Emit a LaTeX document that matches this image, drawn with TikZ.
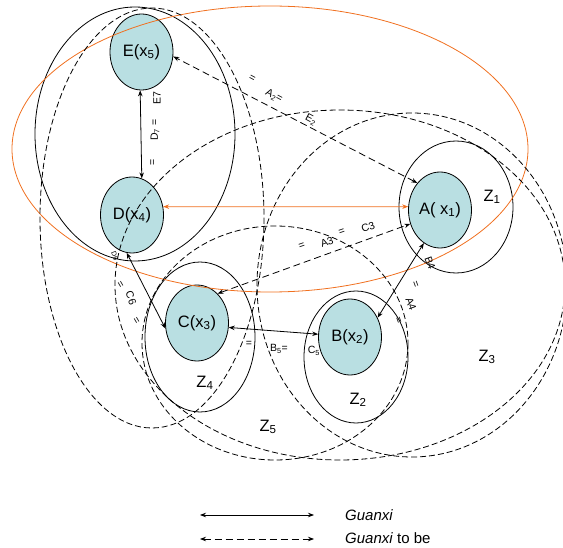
\documentclass[tikz,border=0pt]{standalone}
\usepackage{fontspec}
\setmainfont{Liberation Sans}
\usetikzlibrary{shapes.geometric,arrows.meta}
\definecolor{nodefill}{RGB}{185,223,226}
\definecolor{orangeline}{RGB}{240,112,32}

\begin{document}
\begin{tikzpicture}[x=1pt,y=-1pt,
  actor/.style={ellipse,draw,line width=0.8pt,fill=nodefill,minimum width=63pt,minimum height=76pt,inner sep=0pt,font=\fontsize{16.5}{18}\selectfont},
  zone/.style={draw,line width=0.8pt},
  dzone/.style={draw,line width=0.8pt,dash pattern=on 6pt off 3pt},
  tie/.style={line width=0.8pt,{Stealth[length=6pt,width=4.5pt]}-{Stealth[length=6pt,width=4.5pt]}},
  tietobe/.style={tie,dash pattern=on 7pt off 4pt},
  zlabel/.style={font=\fontsize{16.5}{18}\selectfont},
  tag/.style={font=\fontsize{10.5}{11}\selectfont,inner sep=0pt},
  legtext/.style={font=\fontsize{15}{17}\selectfont,anchor=west,inner sep=0pt}
]
\useasboundingbox (0,0) rectangle (563,548);

% actors
\node[actor] (E) at (141.5,52) {E(x\textsubscript{5})};
\node[actor] (D) at (132,215) {D(x\textsubscript{4})};
\node[actor] (A) at (440,210) {A( x\textsubscript{1})};
\node[actor] (C) at (197,323) {C(x\textsubscript{3})};
\node[actor] (B) at (350,337) {B(x\textsubscript{2})};

% zones
\draw[zone] (135,134) ellipse [x radius=100, y radius=127];
\draw[zone] (456,207) ellipse [x radius=57, y radius=66];
\draw[zone] (200,337) ellipse [x radius=55, y radius=75];
\draw[zone] (356,357) ellipse [x radius=52, y radius=66];
\draw[zone,orangeline] (270,149) ellipse [x radius=258, y radius=143];

\draw[dzone] (152,218) ellipse [x radius=112, y radius=210];
\draw[dzone] (340,285) ellipse [x radius=225, y radius=175];
\draw[dzone] (412,285) ellipse [x radius=155, y radius=172];
\draw[dzone] (275,343) ellipse [x radius=133, y radius=117];

% ties
\draw[tie] (E.-92) -- (D.75);
\draw[tie,orangeline] (D.15) -- (A.174);
\draw[tie] (D.-98) -- (C.190);
\draw[tie] (C.-8) -- (B.175);
\draw[tie] (B.35) -- (A.-116);
\draw[tietobe] (A.130) -- (E.-8);
\draw[tietobe] (C.55) -- (A.205);

% tie tags
\node[tag,rotate=-28] (t1) at (252,79) {=};
\node[tag,rotate=-28] (t2) at (274,96) {A\textsubscript{2}=};
\node[tag,rotate=-28] (t3) at (311,120) {E\textsubscript{2}};
\node[tag,rotate=90] (t4) at (157,98) {E7};
\node[tag,rotate=90] (t5) at (155,130) {D\textsubscript{7} =};
\node[tag,rotate=90] (t6) at (153,162) {=};
\node[tag,rotate=19] (t7) at (302,246) {=};
\node[tag,rotate=19] (t8) at (327,242) {A3};
\node[tag,rotate=19] (t9) at (342,232) {=};
\node[tag,rotate=19] (t10) at (368,227) {C3};
\node[tag,rotate=-70,font=\fontsize{7}{8}\selectfont] (t11) at (115,256) {D6};
\node[tag,rotate=-60] (t12) at (120,285) {=};
\node[tag,rotate=-70] (t13) at (131,298) {C6};
\node[tag,rotate=-60] (t14) at (136,321) {=};
\node[tag] (t15) at (249,344) {=};
\node[tag] (t16) at (279,349) {B\textsubscript{5}=};
\node[tag] (t17) at (314,351) {C\textsubscript{5}};
\node[tag,rotate=-70] (t18) at (430,263) {B4};
\node[tag,rotate=-70] (t19) at (415,285) {=};
\node[tag,rotate=-70] (t20) at (411,304) {A4};
\node[tag,rotate=-70] (t21) at (398,321) {=};

% zone names
\node[zlabel] (z1) at (492,197) {Z\textsubscript{1}};
\node[zlabel] (z2) at (358,400) {Z\textsubscript{2}};
\node[zlabel] (z3) at (487,357) {Z\textsubscript{3}};
\node[zlabel] (z4) at (205,383) {Z\textsubscript{4}};
\node[zlabel] (z5) at (268,427) {Z\textsubscript{5}};

% legend
\coordinate (l1a) at (200,515);
\coordinate (l1b) at (314,515);
\coordinate (l2a) at (200,539);
\coordinate (l2b) at (314,539);
\draw[tie] (l1a) -- (l1b);
\draw[tietobe] (l2a) -- (l2b);
\node[legtext] (g1) at (345,515) {\textit{Guanxi}};
\node[legtext] (g2) at (345,538) {\textit{Guanxi} to be};
\end{tikzpicture}
\end{document}
